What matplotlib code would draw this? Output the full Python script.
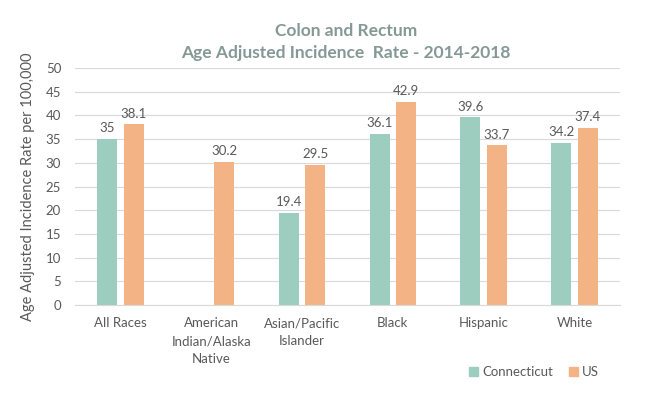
import numpy as np
import matplotlib.pyplot as plt

plt.rcParams['font.family'] = ['Lato', 'DejaVu Sans']

categories = ["All Races", "American\nIndian/Alaska\nNative", "Asian/Pacific\nIslander",
              "Black", "Hispanic", "White"]
connecticut = [35, None, 19.4, 36.1, 39.6, 34.2]
us = [38.1, 30.2, 29.5, 42.9, 33.7, 37.4]

ct_color = "#9dcdbf"
us_color = "#f3b384"
text_color = "#595959"

fig = plt.figure(figsize=(6.47, 3.96), dpi=100)
ax = fig.add_axes([0.116, 0.230, 0.842, 0.598])

x = np.arange(len(categories))
w = 0.22
gap = 0.035

for i in range(len(categories)):
    if connecticut[i] is not None:
        ax.bar(x[i] - w / 2 - gap, connecticut[i], w, color=ct_color, zorder=2)
        ax.text(x[i] - w / 2 - gap, connecticut[i] + 1, f"{connecticut[i]:g}",
                ha="center", va="bottom", fontsize=9.5, color=text_color)
    ax.bar(x[i] + w / 2 + gap, us[i], w, color=us_color, zorder=2)
    ax.text(x[i] + w / 2 + gap, us[i] + 1, f"{us[i]:g}",
            ha="center", va="bottom", fontsize=9.5, color=text_color)

ax.set_xlim(-0.5, len(categories) - 0.5)
ax.set_ylim(0, 50)
ax.set_yticks(range(0, 51, 5))
ax.set_xticks(x)
ax.set_xticklabels(categories, fontsize=9.5, color=text_color, linespacing=1.6)
ax.tick_params(axis="y", labelsize=9.5, colors=text_color, length=0, pad=10)
ax.tick_params(axis="x", length=0, pad=9)
ax.grid(axis="y", color="#d9d9d9", linewidth=0.8, zorder=0)
for s in ["top", "right", "left"]:
    ax.spines[s].set_visible(False)
ax.spines["bottom"].set_color("#d9d9d9")

ax.set_ylabel("Age Adjusted Incidence Rate per 100,000", fontsize=10.5, color=text_color, labelpad=8)

fig.text(0.535, 0.922, "Colon and Rectum", ha="center", va="center",
         fontsize=12.5, fontweight="bold", color="#859994")
fig.text(0.535, 0.866, "Age Adjusted Incidence  Rate - 2014-2018", ha="center", va="center",
         fontsize=12.5, fontweight="bold", color="#859994")

handles = [plt.Rectangle((0, 0), 1, 1, color=ct_color), plt.Rectangle((0, 0), 1, 1, color=us_color)]
fig.legend(handles, ["Connecticut", "US"], loc="center", bbox_to_anchor=(0.825, 0.06),
           ncol=2, frameon=False, fontsize=9.5, handlelength=0.7, handleheight=0.7,
           handletextpad=0.3, columnspacing=1.2, labelcolor=text_color)

fig.savefig("out.png", dpi=100)
